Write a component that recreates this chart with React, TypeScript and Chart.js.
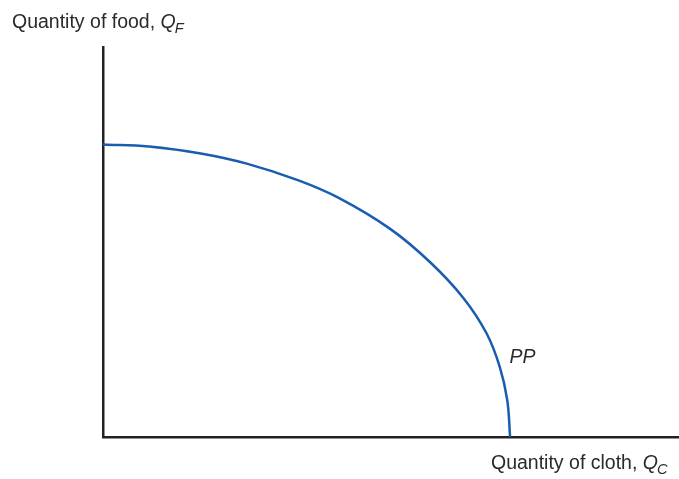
import React, { useEffect, useRef } from "react";
import { Chart, registerables } from "chart.js";

Chart.register(...registerables);

// Production possibility frontier (arbitrary units)
const clothQty = [0, 8, 17, 25, 34, 41, 50, 56.9, 62.7, 66.7, 69.0, 70.3, 70.8];
const foodQty = [75, 74.5, 72.7, 70.1, 65.8, 61.3, 53.3, 44.8, 35.6, 26.6, 18.0, 9.5, 0];
const yTitleText = "Quantity of food, ";
const yTitleVar = "Q";
const yTitleSub = "F";
const xTitleText = "Quantity of cloth, ";
const xTitleVar = "Q";
const xTitleSub = "C";
const curveLabel = "PP";
const curveLabelPos = { x: 70.5, y: 19 };

const FONT = "'Liberation Sans', Arial, Helvetica, sans-serif";
const FS = 19.5;

function drawTitle(ctx: CanvasRenderingContext2D, x: number, y: number, text: string, v: string, sub: string) {
  ctx.font = `${FS}px ${FONT}`;
  ctx.fillText(text, x, y);
  const w = ctx.measureText(text).width;
  ctx.font = `italic ${FS}px ${FONT}`;
  ctx.fillText(v, x + w, y);
  const w2 = ctx.measureText(v).width;
  ctx.font = `italic ${FS * 0.75}px ${FONT}`;
  ctx.fillText(sub, x + w + w2 - 1, y + 5);
}

const labelsPlugin = {
  id: "labels",
  afterDraw(chart: any) {
    const ctx = chart.ctx as CanvasRenderingContext2D;
    ctx.save();
    ctx.fillStyle = "#2a2a2a";
    ctx.textBaseline = "alphabetic";
    ctx.textAlign = "left";
    drawTitle(ctx, 12, 28, yTitleText, yTitleVar, yTitleSub);
    drawTitle(ctx, 491, 469, xTitleText, xTitleVar, xTitleSub);
    const xs = chart.scales.x;
    const ys = chart.scales.y;
    ctx.font = `italic ${FS}px ${FONT}`;
    ctx.fillText(curveLabel, xs.getPixelForValue(curveLabelPos.x) + 1, ys.getPixelForValue(curveLabelPos.y));
    ctx.restore();
  },
};

export default function App() {
  const ref = useRef<HTMLCanvasElement | null>(null);
  useEffect(() => {
    document.body.style.margin = "0";
    const canvas = ref.current!;
    const chart = new Chart(canvas, {
      type: "line",
      data: {
        datasets: [
          {
            data: clothQty.map((c, i) => ({ x: c, y: foodQty[i] })),
            borderColor: "#1a5dae",
            borderWidth: 2.5,
            pointRadius: 0,
            fill: false,
            tension: 0.4,
          },
        ],
      },
      options: {
        animation: false,
        responsive: false,
        layout: { padding: { left: 103, right: 1, top: 47, bottom: 42 } },
        plugins: { legend: { display: false }, tooltip: { enabled: false } },
        scales: {
          x: {
            type: "linear",
            min: 0,
            max: 100,
            ticks: { display: false },
            grid: { display: false, drawTicks: false },
            border: { display: true, color: "#222", width: 2.5 },
          },
          y: {
            type: "linear",
            min: 0,
            max: 100,
            ticks: { display: false },
            grid: { display: false, drawTicks: false },
            border: { display: true, color: "#222", width: 2.5 },
          },
        },
      },
      plugins: [labelsPlugin],
    } as any);
    return () => chart.destroy();
  }, []);
  return (
    <div style={{ width: 679, height: 479, background: "#fff" }}>
      <canvas ref={ref} width={679} height={479} />
    </div>
  );
}
